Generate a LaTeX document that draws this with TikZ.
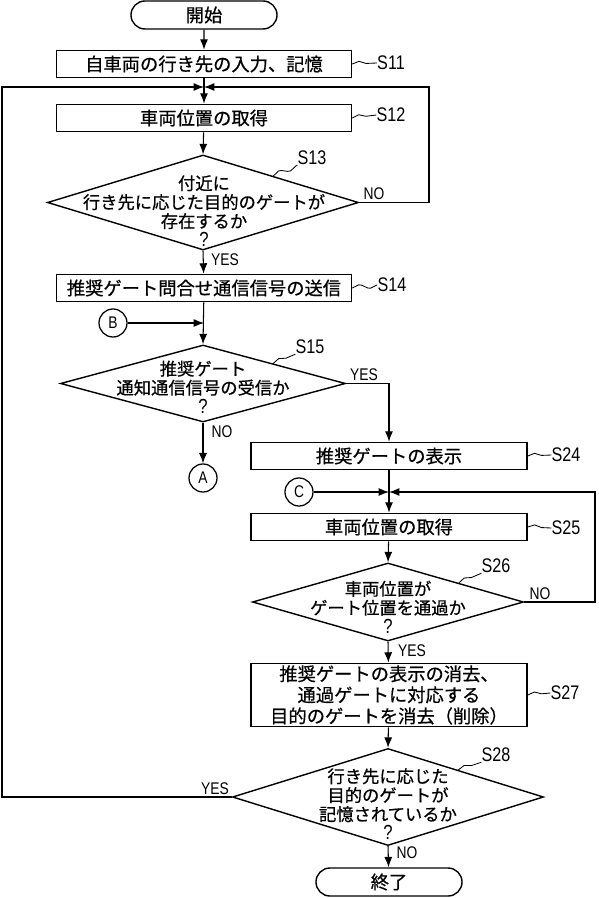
\documentclass[tikz,border=0pt]{standalone}
\usepackage{fontspec}
\setmainfont{Liberation Sans}
\newfontfamily\jfont[FakeBold=0.6]{Noto Sans CJK JP}
\newfontfamily\lfont[FakeStretch=0.82]{Liberation Sans}
\usetikzlibrary{shapes.geometric,shapes.misc,arrows.meta,calc,decorations.pathmorphing}

\providecommand*{\xLoopL}{}
\providecommand*{\xLoopR}{}
\providecommand*{\xLoopRR}{}
\renewcommand*{\xLoopL}{2}
\renewcommand*{\xLoopR}{429}
\renewcommand*{\xLoopRR}{595}

\newcommand*{\qmark}{{\lfont\fontsize{14.5}{13.5}\selectfont ?}}

\tikzset{
  term/.style={rounded rectangle,draw,line width=1pt,minimum width=3.65cm,minimum height=0.7cm,inner sep=0pt,font=\jfont\fontsize{13}{15}\selectfont},
  proc/.style={rectangle,draw,line width=1pt,minimum height=0.68cm,inner sep=0pt,align=center,font=\jfont\fontsize{13}{15}\selectfont},
  decis/.style={diamond,draw,line width=1pt,inner sep=0pt},
  dtext/.style={align=center,inner sep=0pt,font=\jfont\fontsize{12.3}{13.5}\selectfont},
  conn/.style={circle,draw,line width=0.9pt,minimum size=0.7cm,inner sep=0pt,font=\lfont\fontsize{12}{12}\selectfont},
  steplbl/.style={inner sep=0pt,font=\lfont\fontsize{14}{14}\selectfont},
  yn/.style={inner sep=0pt,font=\lfont\fontsize{12}{12}\selectfont},
  arr/.style={-{Latex[length=2.6mm,width=2mm]},line width=0.75pt},
  lead/.style={line width=0.6pt,decorate,decoration={snake,amplitude=0.06cm,segment length=#1}},
  lead/.default=0.55cm
}

\begin{document}
\begin{tikzpicture}[x=0.025cm,y=-0.025cm]
  \useasboundingbox (0,0) rectangle (598,898);
%left column
  \node [term] (start) at (204,15) {開始};
  \node [proc,minimum width=7.375cm] (s11) at (204,64) {自車両の行き先の入力、記憶};
  \node [proc,minimum width=7.375cm] (s12) at (204,118) {車両位置の取得};
  \node [decis,minimum width=7.775cm,minimum height=2.375cm] (s13) at (203,202.5) {};
  \node [dtext] (s13t) at (204,211) {付近に\\行き先に応じた目的のゲートが\\存在するか\\\qmark};
  \node [proc,minimum width=7.375cm] (s14) at (204,288) {推奨ゲート問合せ通信信号の送信};
  \node [decis,minimum width=7.125cm,minimum height=1.925cm] (s15) at (203,383.5) {};
  \node [dtext] (s15t) at (203,387) {推奨ゲート\\通知通信信号の受信か\\\qmark};
  \node [conn] (b) at (113,323) {B};
  \node [conn] (a) at (203,478) {A};
%right column
  \node [proc,minimum width=6.9cm] (s24) at (389,456) {推奨ゲートの表示};
  \node [conn] (c) at (299,492) {C};
  \node [proc,minimum width=6.9cm] (s25) at (389,527) {車両位置の取得};
  \node [decis,minimum width=6.775cm,minimum height=1.95cm] (s26) at (388,602) {};
  \node [dtext] (s26t) at (388,607) {車両位置が\\ゲート位置を通過か\\\qmark};
  \node [proc,minimum width=6.9cm,minimum height=1.58cm] (s27) at (389,695) {推奨ゲートの表示の消去、\\通過ゲートに対応する\\目的のゲートを消去（削除）};
  \node [decis,minimum width=7.775cm,minimum height=2.425cm] (s28) at (388,797) {};
  \node [dtext] (s28t) at (388,804) {行き先に応じた\\目的のゲートが\\記憶されているか\\\qmark};
  \node [term] (stop) at (389,882) {終了};
%step labels
  \node [steplbl] (s11l) at (391,63) {S11};
  \node [steplbl] (s12l) at (391,115) {S12};
  \node [steplbl] (s13l) at (312,158) {S13};
  \node [steplbl] (s14l) at (392,285) {S14};
  \node [steplbl] (s15l) at (310,347) {S15};
  \node [steplbl] (s24l) at (566,455) {S24};
  \node [steplbl] (s25l) at (566,528) {S25};
  \node [steplbl] (s26l) at (496,566) {S26};
  \node [steplbl] (s27l) at (565,693) {S27};
  \node [steplbl] (s28l) at (496,755) {S28};
  \draw [lead] (s11.east) -- (s11l.west);
  \draw [lead] (s12.east) -- (s12l.west);
  \draw [lead] ($(s13.north)!0.45!(s13.east)$) -- (s13l.south west);
  \draw [lead] (s14.east) -- (s14l.west);
  \draw [lead] ($(s15.north)!0.49!(s15.east)$) -- (s15l.south west);
  \draw [lead] (s24.east) -- (s24l.west);
  \draw [lead] (s25.east) -- (s25l.west);
  \draw [lead] ($(s26.north)!0.52!(s26.east)$) -- (s26l.south west);
  \draw [lead] (s27.east) -- (s27l.west);
  \draw [lead] ($(s28.north)!0.45!(s28.east)$) -- (s28l.south west);
%yes / no
  \node [yn] (s13no) at (374,194) {NO};
  \node [yn] (s13yes) at (225,260) {YES};
  \node [yn] (s15yes) at (364,375) {YES};
  \node [yn] (s15no) at (222,432) {NO};
  \node [yn] (s26no) at (540,594) {NO};
  \node [yn] (s26yes) at (412,651) {YES};
  \node [yn] (s28yes) at (215,789) {YES};
  \node [yn] (s28no) at (407,853) {NO};
%junctions and corners
  \coordinate (j1) at (204,87);
  \coordinate (jb) at (204,323);
  \coordinate (j2) at (389,492);
  \coordinate (cLt) at (\xLoopL,87);
  \coordinate (cRt) at (\xLoopR,87);
  \coordinate (cRRt) at (\xLoopRR,492);
%connectors
  \draw [arr] (start) -- (s11);
  \draw [arr] (s11) -- (s12);
  \draw [arr] (s12) -- (s13.north);
  \draw [arr] (s13.south) -- (s14);
  \draw [arr] (s14) -- (s15.north);
  \draw [arr] (b) -- (jb);
  \draw [arr] (s15.south) -- (a);
  \draw [arr] (s15.east) -| (s24.north);
  \draw [arr] (s24) -- (s25);
  \draw [arr] (c) -- (j2);
  \draw [arr] (s25) -- (s26.north);
  \draw [arr] (s26.south) -- (s27);
  \draw [arr] (s27) -- (s28.north);
  \draw [arr] (s28.south) -- (stop);
%loops
  \draw [arr] (s13.east) -| (cRt) -- (j1);
  \draw [arr] (s28.west) -| (cLt) -- (j1);
  \draw [arr] (s26.east) -| (cRRt) -- (j2);
\end{tikzpicture}
\end{document}
